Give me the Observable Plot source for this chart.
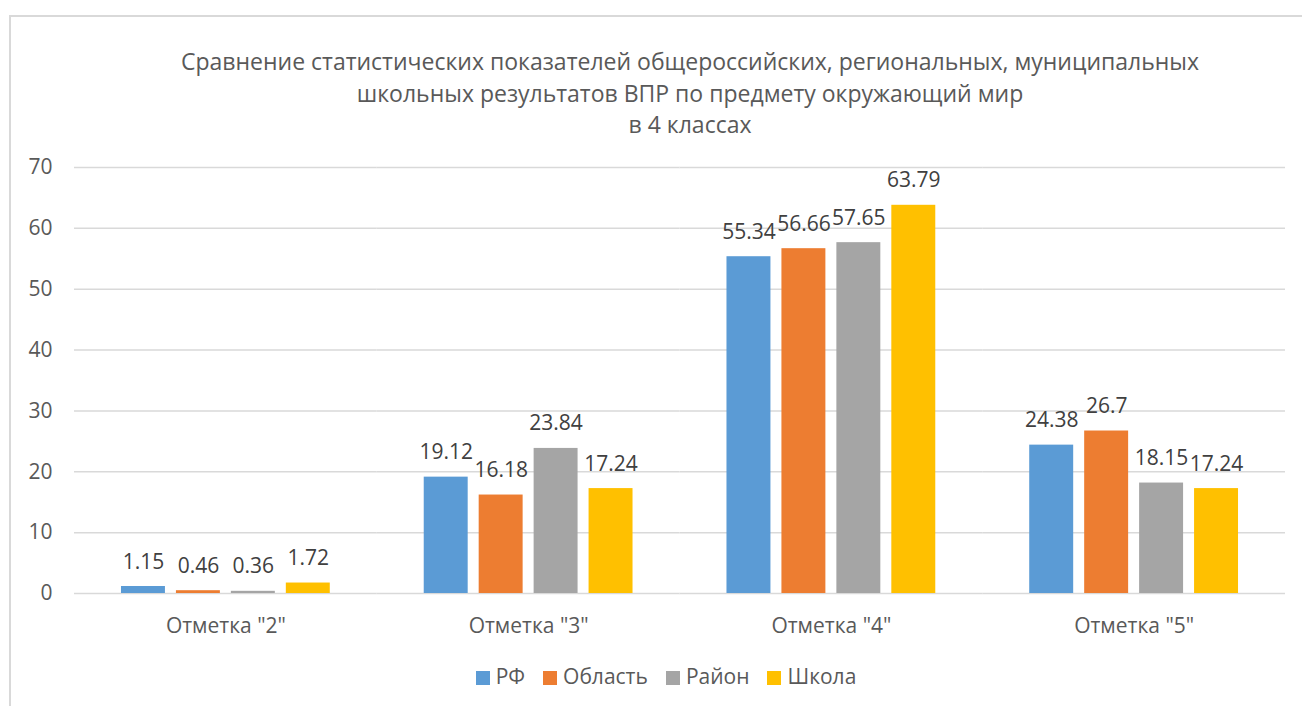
<!DOCTYPE html>
<html>
<head>
<meta charset="utf-8">
<script src="https://cdn.jsdelivr.net/npm/d3@7"></script>
<script src="https://cdn.jsdelivr.net/npm/@observablehq/plot@0.6"></script>
<style>
  html, body { margin: 0; padding: 0; background: #fff; }
  #wrap { position: relative; width: 1302px; height: 706px; overflow: hidden; font-family: "Open Sans", sans-serif; }
  #border { position: absolute; left: 9px; top: 15px; width: 1400px; height: 800px; border: 2px solid #d9d9d9; box-sizing: border-box; }
  #chart { position: absolute; left: 0; top: 0; }
  #title { position: absolute; left: 40px; width: 1300px; top: 46px; text-align: center; font-size: 23px; line-height: 31.5px; color: #595959; }
  #legend { position: absolute; left: 0; width: 1332px; top: 661px; text-align: center; font-size: 21px; line-height: 30px; color: #595959; }
  #legend .item { display: inline-block; margin: 0 9px; }
  #legend .sw { display: inline-block; width: 14px; height: 14px; margin-right: 6px; vertical-align: -1px; }
</style>
</head>
<body>
<div id="wrap">
  <div id="border"></div>
  <div id="chart"></div>
  <div id="title"></div>
  <div id="legend"></div>
</div>
<script>
const titleLines = [
  "Сравнение статистических показателей общероссийских, региональных, муниципальных",
  "школьных результатов ВПР по предмету окружающий мир",
  "в 4 классах"
];
const categories = ['Отметка "2"', 'Отметка "3"', 'Отметка "4"', 'Отметка "5"'];
const series = ["РФ", "Область", "Район", "Школа"];
const rfValues = [1.15, 19.12, 55.34, 24.38];
const oblastValues = [0.46, 16.18, 56.66, 26.7];
const rayonValues = [0.36, 23.84, 57.65, 18.15];
const schoolValues = [1.72, 17.24, 63.79, 17.24];
const colors = ["#5B9BD5", "#ED7D31", "#A5A5A5", "#FFC000"];
const yTicks = [0, 10, 20, 30, 40, 50, 60, 70];

const seriesValues = [rfValues, oblastValues, rayonValues, schoolValues];
const data = [];
categories.forEach((c, i) => {
  series.forEach((s, j) => {
    data.push({cat: c, series: s, value: seriesValues[j][i]});
  });
});

const chart = Plot.plot({
  width: 1302,
  height: 706,
  marginTop: 167,
  marginBottom: 113,
  marginLeft: 74,
  marginRight: 17,
  style: {fontFamily: "Open Sans, sans-serif", fontSize: "21px", color: "#595959", background: "transparent"},
  fx: {domain: categories, padding: 0, label: null, round: false},
  x: {domain: series, paddingInner: 0.2, paddingOuter: 0.855, axis: null, round: false},
  y: {domain: [0, 70], label: null},
  color: {domain: series, range: colors},
  marks: [
    Plot.gridY(yTicks, {stroke: "#d9d9d9", strokeOpacity: 1, strokeWidth: 1.5}),
    Plot.axisY(yTicks, {tickSize: 0, tickPadding: 22, fontSize: 21, label: null, fill: "#595959"}),
    Plot.axisFx({anchor: "bottom", tickSize: 0, tickPadding: 25, fontSize: 21, label: null, fill: "#595959"}),
    Plot.barY(data, {fx: "cat", x: "series", y: "value", fill: "series"}),
    Plot.text(data, {fx: "cat", x: "series", y: "value", text: d => String(d.value), lineAnchor: "bottom", dy: -18, fontSize: 21, fill: "#404040"})
  ]
});
document.getElementById("chart").appendChild(chart);

document.getElementById("title").innerHTML = titleLines.join("<br>");
const legend = document.getElementById("legend");
series.forEach((s, j) => {
  const item = document.createElement("span");
  item.className = "item";
  const sw = document.createElement("span");
  sw.className = "sw";
  sw.style.background = colors[j];
  item.appendChild(sw);
  item.appendChild(document.createTextNode(s));
  legend.appendChild(item);
});
</script>
</body>
</html>
